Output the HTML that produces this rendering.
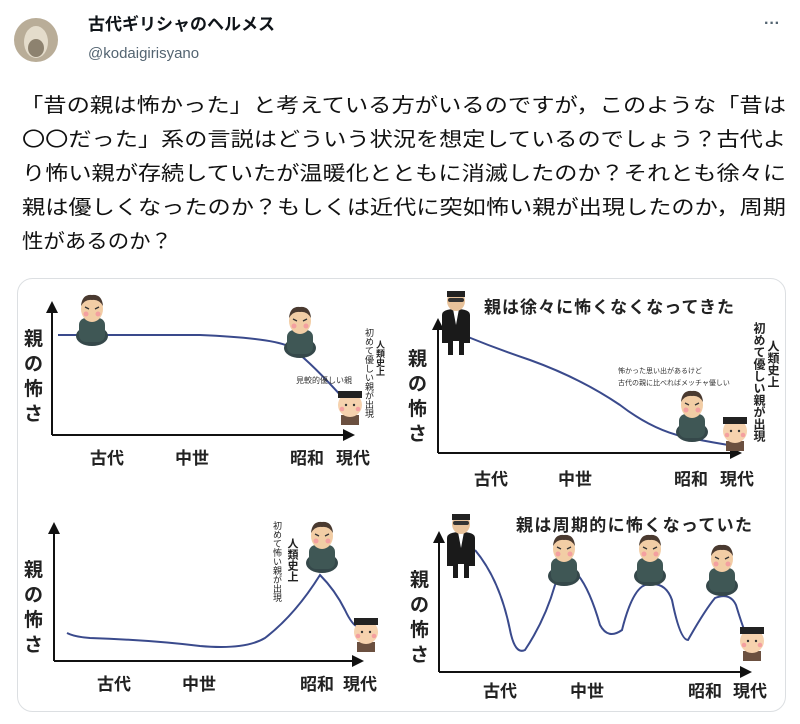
<!DOCTYPE html>
<html><head><meta charset="utf-8"><style>
html,body{margin:0;padding:0;background:#fff;}
svg{display:block;font-family:"Liberation Sans","Noto Sans CJK JP",sans-serif;}
.lab{font-size:17px;font-weight:bold;fill:#222;}
.vt{font-size:19px;font-weight:bold;fill:#222;}
.body{font-size:20px;fill:#111;}
</style></head><body>
<svg width="800" height="724" viewBox="0 0 800 724" xmlns="http://www.w3.org/2000/svg">
<defs>
<marker id="ar" markerWidth="6" markerHeight="6" refX="5" refY="3" orient="auto"><path d="M0,0 L6,3 L0,6z" fill="#111"/></marker>
<g id="par">
 <ellipse cx="0" cy="38" rx="16" ry="10" fill="#35484a"/>
 <rect x="-13" y="20" width="26" height="24" rx="7" fill="#3f5755"/>
 <ellipse cx="0" cy="11" rx="11" ry="13" fill="#f2cda5"/>
 <path d="M-11,8 Q-10,-4 0,-3 Q10,-4 11,8 Q7,1 0,2 Q-7,1 -11,8z" fill="#4a3a30"/>
 <circle cx="-6" cy="16" r="2.5" fill="#f4a0a0"/><circle cx="6" cy="16" r="2.5" fill="#f4a0a0"/>
 <path d="M-7,9 l4,2 M7,9 l-4,2" stroke="#333" stroke-width="1.3"/>
</g>
<g id="kid">
 <rect x="-9" y="24" width="18" height="10" fill="#6b5040"/>
 <ellipse cx="0" cy="14" rx="12" ry="12" fill="#f6d2ae"/>
 <rect x="-12" y="0" width="24" height="7" fill="#222"/>
 <circle cx="-4" cy="14" r="1.2" fill="#333"/><circle cx="4" cy="14" r="1.2" fill="#333"/>
 <circle cx="-8" cy="18" r="2.3" fill="#f4a0a0"/><circle cx="8" cy="18" r="2.3" fill="#f4a0a0"/>
</g>
<g id="suit">
 <path d="M-14,20 Q-14,14 0,14 Q14,14 14,20 L14,48 L8,48 L8,60 L3,60 L3,46 L-3,46 L-3,60 L-8,60 L-8,48 L-14,48z" fill="#1a1a1a"/>
 <path d="M-3,14 L0,30 L3,14z" fill="#fff"/>
 <ellipse cx="0" cy="6" rx="9" ry="10" fill="#e8c29a"/>
 <rect x="-9" y="-4" width="18" height="6" fill="#222"/>
 <rect x="-8" y="3" width="16" height="4" rx="2" fill="#333"/>
</g>
</defs>

<circle cx="36" cy="40" r="22" fill="#b9ad98"/>
<ellipse cx="36" cy="42" rx="12" ry="16" fill="#e4dccb"/>
<ellipse cx="36" cy="48" rx="8" ry="9" fill="#8d826f"/>
<text x="88" y="30" style="font-size:17px;font-weight:bold;fill:#0f1419">古代ギリシャのヘルメス</text>
<text x="88" y="58" style="font-size:15px;fill:#536471">@kodaigirisyano</text>
<text x="764" y="28" style="font-size:16px;fill:#536471;font-weight:bold">···</text>

<text class="body" x="20" y="112" textLength="766" lengthAdjust="spacingAndGlyphs">「昔の親は怖かった」と考えている方がいるのですが，このような「昔は</text>
<text class="body" x="22" y="146" textLength="764" lengthAdjust="spacingAndGlyphs">〇〇だった」系の言説はどういう状況を想定しているのでしょう？古代よ</text>
<text class="body" x="22" y="180" textLength="764" lengthAdjust="spacingAndGlyphs">り怖い親が存続していたが温暖化とともに消滅したのか？それとも徐々に</text>
<text class="body" x="22" y="214" textLength="764" lengthAdjust="spacingAndGlyphs">親は優しくなったのか？もしくは近代に突如怖い親が出現したのか，周期</text>
<text class="body" x="22" y="248" textLength="150" lengthAdjust="spacingAndGlyphs">性があるのか？</text>

<rect x="17.5" y="278.5" width="768" height="433" rx="15" fill="#fff" stroke="#dcdfe2"/>

<g fill="none" stroke="#111" stroke-width="2">
<line x1="52" y1="435" x2="52" y2="303" marker-end="url(#ar)"/>
<line x1="52" y1="435" x2="353" y2="435" marker-end="url(#ar)"/>
</g>
<path d="M58,335 L200,335 Q270,338 288,346 Q305,356 343,398" fill="none" stroke="#3a4a8c" stroke-width="2"/>
<use href="#par" x="92" y="298"/><use href="#par" x="300" y="310"/><use href="#kid" x="350" y="391"/>
<text x="296" y="383" style="font-size:8px;fill:#333">見較的優しい親</text>
<text class="lab" x="90" y="464">古代</text><text class="lab" x="175" y="464">中世</text><text class="lab" x="290" y="464">昭和</text><text class="lab" x="336" y="464">現代</text>
<text class="vt" x="24" y="345">親</text><text class="vt" x="24" y="370">の</text><text class="vt" x="24" y="395">怖</text><text class="vt" x="24" y="420">さ</text>
<text style="font-size:9px;font-weight:bold;fill:#222;writing-mode:tb" x="380" y="340">人類史上</text>
<text style="font-size:9px;fill:#222;writing-mode:tb" x="369" y="328">初めて優しい親が出現</text>

<g fill="none" stroke="#111" stroke-width="2">
<line x1="438" y1="453" x2="438" y2="320" marker-end="url(#ar)"/>
<line x1="438" y1="453" x2="740" y2="453" marker-end="url(#ar)"/>
</g>
<path d="M468,337 Q500,350 530,360 Q580,378 620,405 Q655,432 690,438 Q715,443 735,446" fill="none" stroke="#3a4a8c" stroke-width="2"/>
<use href="#suit" x="456" y="295"/><use href="#par" x="692" y="394"/><use href="#kid" x="735" y="417"/>
<text x="484" y="313" style="font-size:17px;font-weight:bold;fill:#222" textLength="250" lengthAdjust="spacing">親は徐々に怖くなくなってきた</text>
<text x="618" y="373" style="font-size:7px;fill:#333">怖かった思い出があるけど</text>
<text x="618" y="385" style="font-size:7px;fill:#333">古代の親に比べればメッチャ優しい</text>
<text class="lab" x="474" y="485">古代</text><text class="lab" x="558" y="485">中世</text><text class="lab" x="674" y="485">昭和</text><text class="lab" x="720" y="485">現代</text>
<text class="vt" x="408" y="365">親</text><text class="vt" x="408" y="390">の</text><text class="vt" x="408" y="415">怖</text><text class="vt" x="408" y="440">さ</text>
<text style="font-size:12px;font-weight:bold;fill:#222;writing-mode:tb" x="773" y="340">人類史上</text>
<text style="font-size:12px;font-weight:bold;fill:#222;writing-mode:tb" x="759" y="322">初めて優しい親が出現</text>

<g fill="none" stroke="#111" stroke-width="2">
<line x1="54" y1="661" x2="54" y2="524" marker-end="url(#ar)"/>
<line x1="54" y1="661" x2="362" y2="661" marker-end="url(#ar)"/>
</g>
<path d="M67,633 Q75,637 90,638 Q150,640 200,646 Q245,650 265,638 Q295,615 320,575 Q335,590 345,610 Q352,625 358,627" fill="none" stroke="#3a4a8c" stroke-width="2"/>
<use href="#par" x="322" y="525"/><use href="#kid" x="366" y="618"/>
<text class="lab" x="97" y="690">古代</text><text class="lab" x="182" y="690">中世</text><text class="lab" x="300" y="690">昭和</text><text class="lab" x="343" y="690">現代</text>
<text class="vt" x="24" y="576">親</text><text class="vt" x="24" y="601">の</text><text class="vt" x="24" y="626">怖</text><text class="vt" x="24" y="651">さ</text>
<text style="font-size:11px;font-weight:bold;fill:#222;writing-mode:tb" x="292" y="538">人類史上</text>
<text style="font-size:9px;fill:#222;writing-mode:tb" x="277" y="521">初めて怖い親が出現</text>

<g fill="none" stroke="#111" stroke-width="2">
<line x1="439" y1="672" x2="439" y2="533" marker-end="url(#ar)"/>
<line x1="439" y1="672" x2="750" y2="672" marker-end="url(#ar)"/>
</g>
<path d="M475,550 Q500,580 510,630 Q515,655 525,650 Q545,620 555,585 Q562,570 578,575 Q590,590 600,625 Q608,640 622,630 Q632,590 645,585 Q665,580 672,600 Q680,640 688,640 Q705,610 715,598 Q730,592 736,605 Q742,625 748,640" fill="none" stroke="#3a4a8c" stroke-width="2"/>
<use href="#suit" x="461" y="518"/><use href="#par" x="564" y="538"/><use href="#par" x="650" y="538"/><use href="#par" x="722" y="548"/><use href="#kid" x="752" y="627"/>
<text x="516" y="531" style="font-size:17px;font-weight:bold;fill:#222" textLength="236" lengthAdjust="spacing">親は周期的に怖くなっていた</text>
<text class="lab" x="483" y="697">古代</text><text class="lab" x="570" y="697">中世</text><text class="lab" x="688" y="697">昭和</text><text class="lab" x="733" y="697">現代</text>
<text class="vt" x="410" y="586">親</text><text class="vt" x="410" y="611">の</text><text class="vt" x="410" y="636">怖</text><text class="vt" x="410" y="661">さ</text>
</svg>
</body></html>
